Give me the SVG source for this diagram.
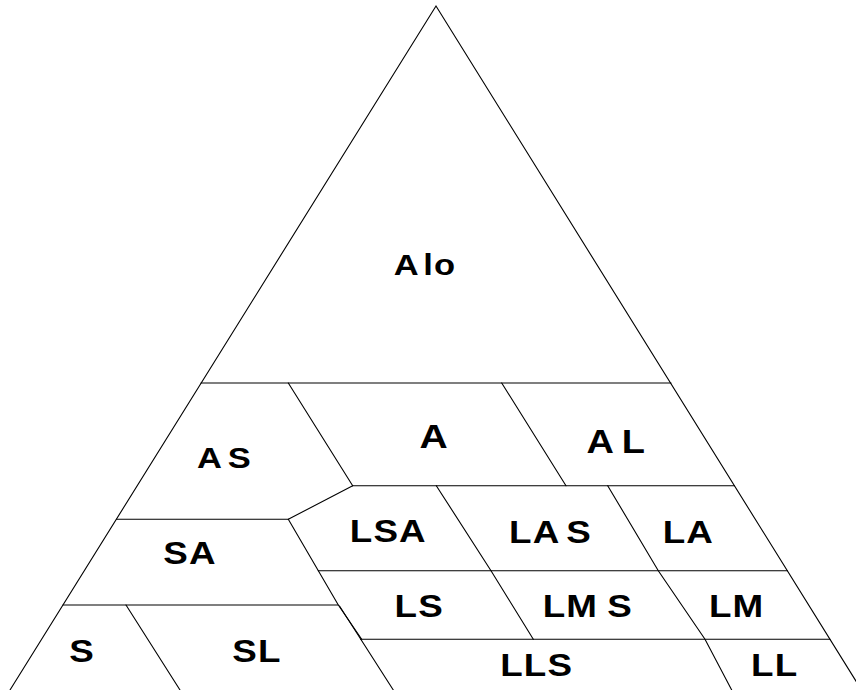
<svg xmlns="http://www.w3.org/2000/svg" width="856" height="690" viewBox="0 0 856 690">
<style>
.ln{stroke:#000;stroke-width:1.1;fill:none;stroke-linecap:round}
.lb{font-family:"Liberation Sans",Arial,sans-serif;font-weight:bold;font-size:32px;fill:#000;text-anchor:middle;letter-spacing:1px}
</style>
<rect width="856" height="690" fill="#fff"/>
<g id="connectors">
<path class="ln" d="M10,690 L436,6 L861.5,690"/>
<path class="ln" d="M201,383 H671"/>
<path class="ln" d="M288.3,383 L352.7,485.7"/>
<path class="ln" d="M501.7,383 L566,485.7"/>
<path class="ln" d="M352.7,485.7 H734.5"/>
<path class="ln" d="M352.7,485.7 L288.3,519.3"/>
<path class="ln" d="M116.5,519.3 H288.3"/>
<path class="ln" d="M288.3,519.3 L338.3,605 L361.7,639.3"/>
<path class="ln" d="M339.5,606 L393.3,690"/>
<path class="ln" d="M318.3,570.7 H787.5"/>
<path class="ln" d="M436.3,485.7 L491,570.7 L533.3,639.3"/>
<path class="ln" d="M607.7,485.7 L658.3,570.7 L705,639.3 L731.7,690"/>
<path class="ln" d="M63,605 H338.3"/>
<path class="ln" d="M126,605 L180,690"/>
<path class="ln" d="M360.5,639.3 H830"/>
</g>
<g id="Alo"><text class="lb" style="font-size:30px" transform="translate(425,275) scale(1.15,1)">A<tspan dx="3">lo</tspan></text></g>
<g id="A"><text class="lb" style="font-size:34px" transform="translate(434.2,448.3) scale(1.15,1)">A</text></g>
<g id="AS"><text class="lb" style="font-size:30px" transform="translate(224.5,468.3) scale(1.15,1)">A<tspan dx="4">S</tspan></text></g>
<g id="AL"><text class="lb" style="font-size:33px" transform="translate(616.3,453.3) scale(1.15,1)">A<tspan dx="6">L</tspan></text></g>
<g id="SA"><text class="lb" transform="translate(190,563.5) scale(1.15,1)">SA</text></g>
<g id="LSA"><text class="lb" transform="translate(388.3,541.7) scale(1.15,1)">LSA</text></g>
<g id="LAS"><text class="lb" transform="translate(550.5,543.3) scale(1.15,1)">LA<tspan dx="5">S</tspan></text></g>
<g id="LA"><text class="lb" transform="translate(688.3,543.3) scale(1.15,1)">LA</text></g>
<g id="LS"><text class="lb" transform="translate(419.2,616.7) scale(1.15,1)">LS</text></g>
<g id="LMS"><text class="lb" transform="translate(587.8,616.7) scale(1.15,1)">LM<tspan dx="8">S</tspan></text></g>
<g id="LM"><text class="lb" transform="translate(736.7,616.7) scale(1.15,1)">LM</text></g>
<g id="S"><text class="lb" transform="translate(82.2,661.7) scale(1.15,1)">S</text></g>
<g id="SL"><text class="lb" transform="translate(257,661.7) scale(1.15,1)">SL</text></g>
<g id="LLS"><text class="lb" transform="translate(536.7,676) scale(1.15,1)">LLS</text></g>
<g id="LL"><text class="lb" transform="translate(774.7,676) scale(1.15,1)">LL</text></g>
</svg>
